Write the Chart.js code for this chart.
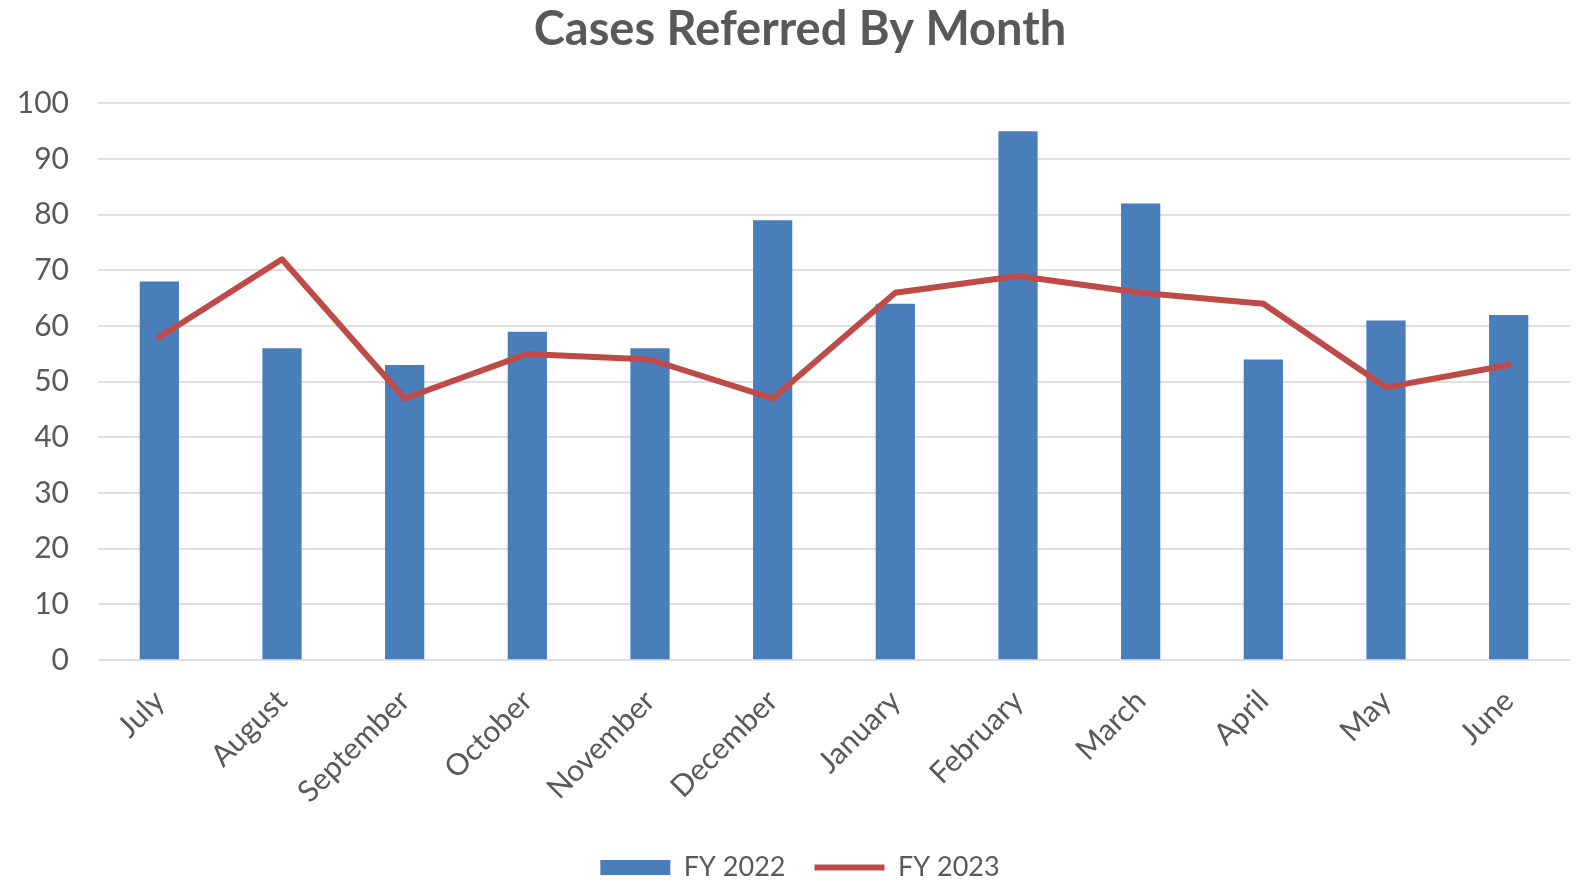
<!DOCTYPE html>
<html lang="en">
<head>
    <meta charset="UTF-8">
    <title>Cases Referred By Month</title>
    <script src="https://cdn.jsdelivr.net/npm/chart.js"></script>
    <style>
        body {
            margin: 0;
            padding: 0;
            background-color: #ffffff;
        }
        .chart-box {
            position: relative;
            width: 1583px;
            height: 882px;
        }
    </style>
</head>
<body>
    <div class="chart-box">
        <canvas id="casesChart"></canvas>
    </div>
    <script>
        const months = ['July', 'August', 'September', 'October', 'November', 'December',
                        'January', 'February', 'March', 'April', 'May', 'June'];
        const fy2022 = [68, 56, 53, 59, 56, 79, 64, 95, 82, 54, 61, 62];
        const fy2023 = [58, 72, 47, 55, 54, 47, 66, 69, 66, 64, 49, 53];
        const seriesNames = ['FY 2022', 'FY 2023'];

        const textGrey = '#595959';
        const barBlue = '#4a7ebb';
        const lineRed = '#be4b48';

        const ctx = document.getElementById('casesChart').getContext('2d');

        new Chart(ctx, {
            type: 'bar',
            data: {
                labels: months,
                datasets: [
                    {
                        label: seriesNames[0],
                        data: fy2022,
                        backgroundColor: barBlue,
                        barPercentage: 0.32,
                        categoryPercentage: 1,
                        order: 2
                    },
                    {
                        type: 'line',
                        label: seriesNames[1],
                        data: fy2023,
                        borderColor: lineRed,
                        borderWidth: 6,
                        pointRadius: 0,
                        tension: 0,
                        borderJoinStyle: 'round',
                        borderCapStyle: 'round',
                        order: 1
                    }
                ]
            },
            options: {
                responsive: true,
                maintainAspectRatio: false,
                animation: false,
                layout: {
                    // negative right pad + empty right axis: title centred a bit right of the plot, like the original
                    padding: { left: 0, right: -17, top: 0, bottom: -9 }
                },
                plugins: {
                    title: {
                        display: true,
                        text: 'Cases Referred By Month',
                        color: textGrey,
                        font: { family: 'Lato', size: 47, weight: 'bold' },
                        padding: { top: 2, bottom: 45 }
                    },
                    legend: {
                        position: 'bottom',
                        labels: {
                            color: textGrey,
                            font: { family: 'Lato', size: 27 },
                            usePointStyle: true,
                            pointStyleWidth: 70,
                            boxHeight: 15,
                            padding: 29,
                            generateLabels: chart => chart.data.datasets.map((ds, i) => ({
                                text: ds.label,
                                fillStyle: i === 0 ? ds.backgroundColor : ds.borderColor,
                                strokeStyle: i === 0 ? ds.backgroundColor : ds.borderColor,
                                lineWidth: i === 0 ? 0 : 6,
                                pointStyle: i === 0 ? 'rect' : 'line',
                                fontColor: textGrey,
                                hidden: false,
                                datasetIndex: i
                            }))
                        }
                    },
                    tooltip: { enabled: false }
                },
                scales: {
                    x: {
                        grid: { display: false },
                        border: { display: false },
                        ticks: {
                            color: textGrey,
                            font: { family: 'Lato', size: 30 },
                            minRotation: 45,
                            maxRotation: 45,
                            padding: 15
                        }
                    },
                    y: {
                        min: 0,
                        max: 100,
                        grid: { color: '#dedede', lineWidth: 2, drawTicks: false },
                        border: { display: false },
                        ticks: {
                            stepSize: 10,
                            color: textGrey,
                            font: { family: 'Lato', size: 30 },
                            padding: 29
                        },
                        afterFit: scale => { scale.width = 98; }
                    },
                    spacer: {
                        type: 'linear',
                        position: 'right',
                        grid: { display: false },
                        border: { display: false },
                        ticks: { display: false },
                        afterFit: scale => { scale.width = 30; }
                    }
                }
            }
        });
    </script>
</body>
</html>
